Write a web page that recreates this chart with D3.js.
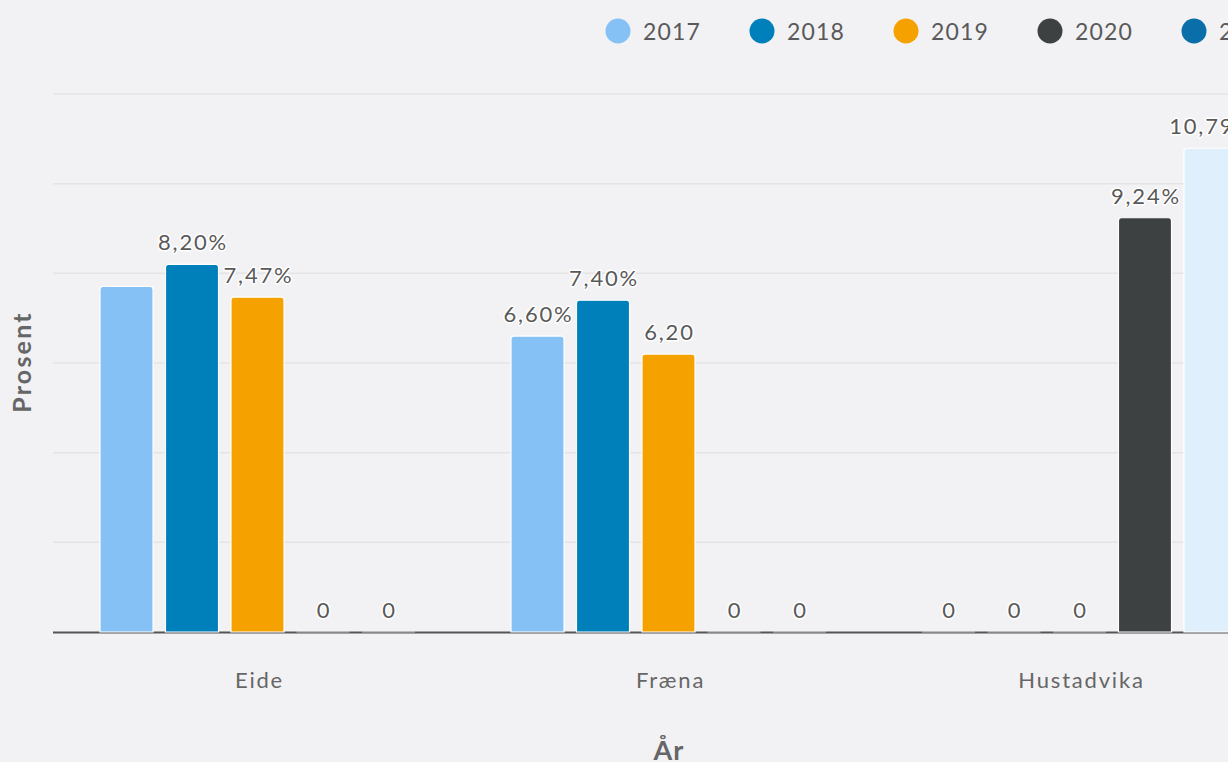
<!DOCTYPE html>
<html>
<head>
<meta charset="utf-8">
<script src="https://cdn.jsdelivr.net/npm/d3@7"></script>
<style>
  html, body { margin: 0; padding: 0; background: #f2f2f4; overflow: hidden; }
  svg { display: block; font-family: Lato, "Open Sans", sans-serif; }
</style>
</head>
<body>
<svg width="1228" height="762"></svg>
<script>
// Data
var categories = ["Eide", "Fræna", "Hustadvika"];
var series = ["2017", "2018", "2019", "2020", "2021"];
var values2017 = [7.71, 6.60, 0];
var values2018 = [8.20, 7.40, 0];
var values2019 = [7.47, 6.20, 0];
var values2020 = [0, 0, 9.24];
var values2021 = [0, 0, 10.79];
// labels as shown in the picture (null = hidden)
var labels2017 = [null, "6,60%", "0"];
var labels2018 = ["8,20%", "7,40%", "0"];
var labels2019 = ["7,47%", "6,20", "0"];
var labels2020 = ["0", "0", "9,24%"];
var labels2021 = ["0", "0", "10,79%"];
var yTicks = [0, 2, 4, 6, 8, 10, 12];

var legendColors = ["#85c1f5", "#0080bb", "#f5a200", "#3d4142", "#0a6ea8"];
var barColors    = ["#85c1f5", "#0080bb", "#f5a200", "#3d4142", "#dff0fc"];

var allValues = [values2017, values2018, values2019, values2020, values2021];
var allLabels = [labels2017, labels2018, labels2019, labels2020, labels2021];

var svg = d3.select("svg");

// Scales
var x0 = d3.scaleBand()
    .domain(categories)
    .range([53, 53 + 411 * categories.length]);

var x1 = d3.scaleBand()
    .domain(series)
    .range([47, 362])
    .paddingInner(0.19);

var y = d3.scaleLinear()
    .domain([0, 12])
    .range([632, 94]);

// Gridlines
svg.append("g")
  .selectAll("line")
  .data(yTicks.slice(1))
  .enter()
  .append("line")
    .attr("x1", 53)
    .attr("x2", 1228)
    .attr("y1", function(d){ return y(d) })
    .attr("y2", function(d){ return y(d) })
    .attr("stroke", "#e4e4e6")
    .attr("stroke-width", 1.5);

// Axis line
svg.append("line")
    .attr("x1", 53).attr("x2", 1228)
    .attr("y1", y(0) + 0.5).attr("y2", y(0) + 0.5)
    .attr("stroke", "#555")
    .attr("stroke-width", 2);

// Flatten points
var points = [];
series.forEach(function(s, i){
  categories.forEach(function(c, j){
    points.push({series: s, si: i, cat: c, value: allValues[i][j], label: allLabels[i][j]});
  });
});

function barPath(x, top, w, h, r) {
  r = Math.min(r, h);
  return "M" + x + "," + (top + h) +
    "V" + (top + r) +
    "Q" + x + "," + top + " " + (x + r) + "," + top +
    "H" + (x + w - r) +
    "Q" + (x + w) + "," + top + " " + (x + w) + "," + (top + r) +
    "V" + (top + h) + "Z";
}

// Bars
svg.append("g")
  .selectAll("path")
  .data(points)
  .enter()
  .append("path")
    .attr("d", function(d){
      var x = x0(d.cat) + x1(d.series);
      var top = y(d.value);
      return barPath(x, top, x1.bandwidth(), y(0) - top, 3);
    })
    .attr("fill", function(d){ return barColors[d.si] })
    .attr("stroke", "#fff")
    .attr("stroke-opacity", function(d){ return d.value === 0 ? 0.6 : 1 })
    .attr("stroke-width", 1.2);

// Value labels
svg.append("g")
  .selectAll("text")
  .data(points.filter(function(d){ return d.label !== null }))
  .enter()
  .append("text")
    .attr("x", function(d){ return x0(d.cat) + x1(d.series) + x1.bandwidth() / 2 + 1 })
    .attr("y", function(d){ return y(d.value) - 14 })
    .attr("text-anchor", "middle")
    .attr("font-size", 22)
    .attr("letter-spacing", 1.8)
    .attr("fill", "#595959")
    .attr("stroke", "#fff")
    .attr("stroke-width", 3)
    .attr("stroke-linejoin", "round")
    .attr("paint-order", "stroke")
    .text(function(d){ return d.label });

// Category labels
svg.append("g")
  .selectAll("text")
  .data(categories)
  .enter()
  .append("text")
    .attr("x", function(d){ return x0(d) + x0.bandwidth() / 2 + 1 })
    .attr("y", 688)
    .attr("text-anchor", "middle")
    .attr("font-size", 22)
    .attr("letter-spacing", 1.8)
    .attr("fill", "#666")
    .text(function(d){ return d });

// Axis titles
svg.append("text")
    .attr("transform", "translate(31," + 362 + ") rotate(-90)")
    .attr("text-anchor", "middle")
    .attr("font-size", 25)
    .attr("font-weight", "bold")
    .attr("letter-spacing", 2.2)
    .attr("fill", "#666")
    .text("Prosent");

svg.append("text")
    .attr("x", 669)
    .attr("y", 760)
    .attr("text-anchor", "middle")
    .attr("font-size", 27)
    .attr("font-weight", "bold")
    .attr("letter-spacing", 1)
    .attr("fill", "#666")
    .text("År");

// Legend
var legendX = d3.scaleLinear().domain([0, 1]).range([618, 762]);

var legend = svg.append("g")
  .selectAll("g")
  .data(series)
  .enter()
  .append("g")
    .attr("transform", function(d, i){ return "translate(" + legendX(i) + ",31)" });

legend.append("circle")
    .attr("r", 12.5)
    .attr("fill", function(d, i){ return legendColors[i] });

legend.append("text")
    .attr("x", 25)
    .attr("y", 8.5)
    .attr("font-size", 23)
    .attr("letter-spacing", 1.2)
    .attr("fill", "#595959")
    .text(function(d){ return d });
</script>
</body>
</html>
